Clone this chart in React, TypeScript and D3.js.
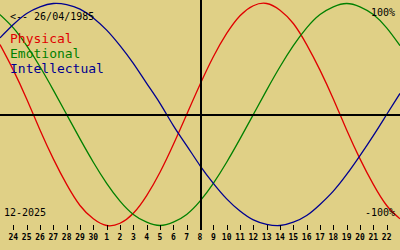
import React from "react";
import * as d3 from "d3";

const W = 400;
const H = 250;

// Day labels for the ticks (Nov 24 .. Dec 22)
const dayLabels = [
  "24", "25", "26", "27", "28", "29", "30",
  "1", "2", "3", "4", "5", "6", "7", "8", "9", "10", "11", "12", "13", "14",
  "15", "16", "17", "18", "19", "20", "21", "22",
];

// Daily values from Nov 23 (index -1) to Dec 23 (index 29)
const physical = [
  0.63, 0.4, 0.14, -0.14, -0.4, -0.63, -0.82, -0.94, -1.0, -0.98, -0.89,
  -0.73, -0.52, -0.27, 0, 0.27, 0.52, 0.73, 0.89, 0.98, 1.0, 0.94, 0.82,
  0.63, 0.4, 0.14, -0.14, -0.4, -0.63, -0.82, -0.94,
];
const emotional = [
  0.9, 0.78, 0.62, 0.43, 0.22, 0, -0.22, -0.43, -0.62, -0.78, -0.9, -0.97,
  -1.0, -0.97, -0.9, -0.78, -0.62, -0.43, -0.22, 0, 0.22, 0.43, 0.62, 0.78,
  0.9, 0.97, 1.0, 0.97, 0.9, 0.78, 0.62,
];
const intellectual = [
  0.69, 0.81, 0.91, 0.97, 1.0, 0.99, 0.95, 0.87, 0.76, 0.62, 0.46, 0.28, 0.1,
  -0.1, -0.28, -0.46, -0.62, -0.76, -0.87, -0.95, -0.99, -1.0, -0.97, -0.91,
  -0.81, -0.69, -0.54, -0.37, -0.19, 0, 0.19,
];

const seriesNames = ["Physical", "Emotional", "Intellectual"];
const seriesColors = ["#e00000", "#008000", "#000090"];
const birthLabel = "<-- 26/04/1985";
const monthLabel = "12-2025";
const todayIndex = 14;

const MONO = "'DejaVu Sans Mono', monospace";

export default function App() {
  const x = d3.scaleLinear().domain([-1, 29]).range([0, W]);
  const y = d3.scaleLinear().domain([-1, 1]).range([225.5, 3.5]);
  const line = d3
    .line<number>()
    .x((_, i) => x(i - 1))
    .y((v) => y(v))
    .curve(d3.curveNatural);

  const series = [physical, emotional, intellectual];

  return (
    <svg
      width={W}
      height={H}
      style={{ position: "fixed", left: 0, top: 0, display: "block" }}
    >
      <rect x={0} y={0} width={W} height={H} fill="#e0d086" />
      {series.map((s, k) => (
        <path
          key={k}
          d={line(s) || ""}
          fill="none"
          stroke={seriesColors[k]}
          strokeWidth={1.3}
        />
      ))}
      <line x1={0} x2={W} y1={115} y2={115} stroke="#000" strokeWidth={2} />
      <line
        x1={x(todayIndex) + 1}
        x2={x(todayIndex) + 1}
        y1={0}
        y2={230}
        stroke="#000"
        strokeWidth={2}
      />
      {dayLabels.map((lab, i) => (
        <g key={i}>
          <line
            x1={Math.round(x(i)) + 0.5}
            x2={Math.round(x(i)) + 0.5}
            y1={225}
            y2={230}
            stroke="#000"
            strokeWidth={1}
          />
          <text
            x={x(i)}
            y={240}
            textAnchor="middle"
            fontFamily={MONO}
            fontSize={8}
            fontWeight="bold"
            fill="#000"
          >
            {lab}
          </text>
        </g>
      ))}
      <text x={10} y={20} fontFamily={MONO} fontSize={10} fill="#000">
        {birthLabel}
      </text>
      {seriesNames.map((n, k) => (
        <text
          key={n}
          x={10}
          y={43 + k * 15}
          fontFamily={MONO}
          fontSize={13}
          fill={seriesColors[k]}
        >
          {n}
        </text>
      ))}
      <text x={395} y={16} textAnchor="end" fontFamily={MONO} fontSize={10} fill="#000">
        100%
      </text>
      <text x={395} y={216} textAnchor="end" fontFamily={MONO} fontSize={10} fill="#000">
        -100%
      </text>
      <text x={4} y={216} fontFamily={MONO} fontSize={10} fill="#000">
        {monthLabel}
      </text>
    </svg>
  );
}
